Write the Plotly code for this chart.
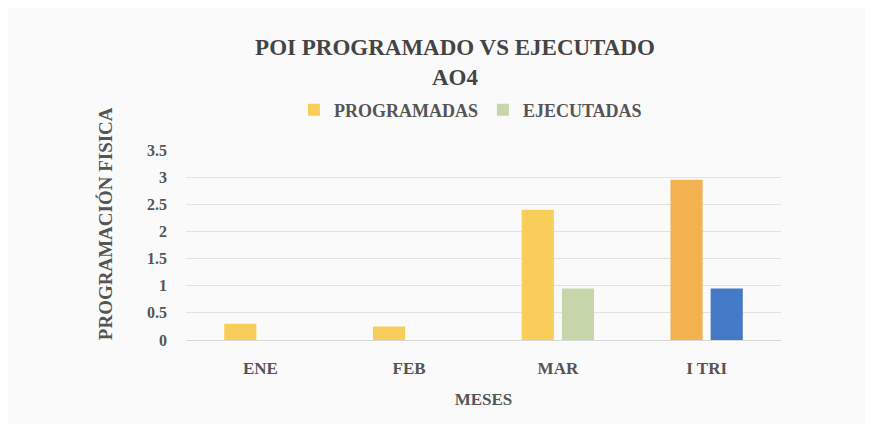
import plotly.graph_objects as go

meses = ["ENE", "FEB", "MAR", "I TRI"]
programadas = [0.3, 0.25, 2.4, 2.95]
ejecutadas = [0, 0, 0.95, 0.95]

# colores tal como se ven en el escaneo; el trimestre usa otro tono
color_prog = ["#F8CD5A", "#F8CD5A", "#F8CD5A", "#F4B150"]
color_ejec = ["#C7D5AA", "#C7D5AA", "#C7D5AA", "#4379C6"]

FONT = "Liberation Serif"
GRIS = "#555555"

fig = go.Figure()
fig.add_bar(x=meses, y=programadas, name="PROGRAMADAS",
            marker=dict(color=color_prog, line_width=0))
fig.add_bar(x=meses, y=ejecutadas, name="EJECUTADAS",
            marker=dict(color=color_ejec, line_width=0))

fig.update_layout(
    template="none",
    width=873, height=424,
    paper_bgcolor="#fafafa", plot_bgcolor="#fafafa",
    font=dict(family=FONT, size=16, color=GRIS),
    margin=dict(l=178, r=100, t=142, b=92),
    barmode="group", bargap=0.46, bargroupgap=0.2,
    title=dict(text="POI PROGRAMADO VS EJECUTADO<br>AO4",
               x=0.512, xanchor="center", y=0.89, yanchor="top",
               font=dict(family=FONT, size=23, color="#444444", weight=700)),
    legend=dict(orientation="h", x=0.478, xanchor="center", y=1.21, yanchor="middle",
                font=dict(family=FONT, size=18, color=GRIS, weight=700),
                itemwidth=30, traceorder="normal"),
    showlegend=True,
)
# título del eje Y como anotación: en el original no queda centrado en el área
fig.add_annotation(text="<b>PROGRAMACIÓN FISICA</b>", textangle=-90,
                   xref="paper", yref="paper", x=-0.157, y=0.61,
                   showarrow=False, font=dict(size=19, color=GRIS))
fig.update_xaxes(title=dict(text="<b>MESES</b>", font=dict(size=17), standoff=16),
                 tickfont=dict(size=17, weight="bold"), ticklabelstandoff=16,
                 showline=False, showgrid=False, ticks="")
fig.update_yaxes(range=[0, 3.5], dtick=0.5, showgrid=True, gridcolor="#e2e2e2",
                 zeroline=True, zerolinecolor="#d8d8d8", showline=False, ticks="",
                 tickfont=dict(size=16, weight="bold"), ticklabelstandoff=18)

fig.write_html("out.html")
